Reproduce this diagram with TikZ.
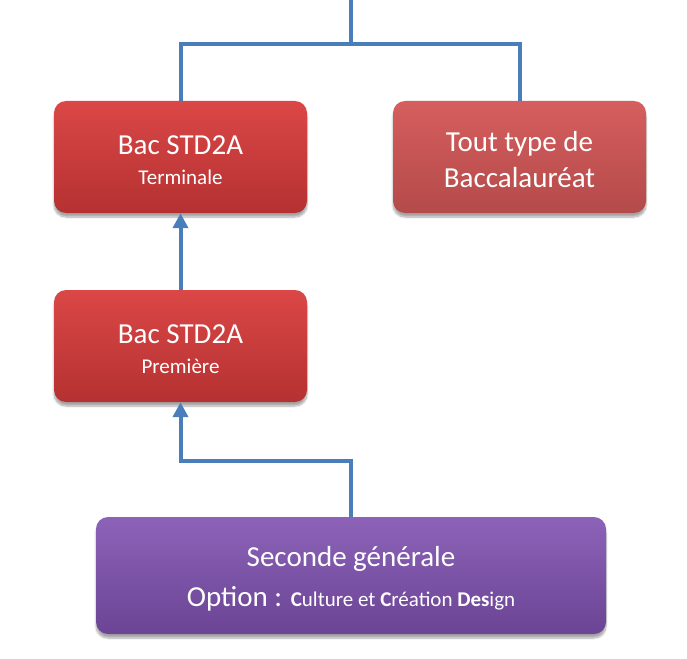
\documentclass[tikz,border=0pt]{standalone}
\usepackage{fontspec}
\setmainfont{Carlito}
\usetikzlibrary{arrows.meta,shadows.blur}
\definecolor{lineblue}{HTML}{4A7EBB}
\definecolor{redtop}{HTML}{DB4747}
\definecolor{redbot}{HTML}{B53131}
\definecolor{pinktop}{HTML}{D65E5E}
\definecolor{pinkbot}{HTML}{B44A4A}
\definecolor{purtop}{HTML}{8C63B8}
\definecolor{purbot}{HTML}{6B4495}
\newcommand{\smallt}{\fontsize{21}{26}\selectfont}
\tikzset{
  box/.style={rectangle, rounded corners=12pt, draw=none, inner sep=0pt,
    blur shadow={shadow xshift=0pt, shadow yshift=-4pt, shadow blur steps=8, shadow opacity=35}},
  redbox/.style={box, top color=redtop, bottom color=redbot, minimum width=253pt, minimum height=112pt},
  pinkbox/.style={box, top color=pinktop, bottom color=pinkbot, minimum width=253pt, minimum height=112pt},
  purbox/.style={box, top color=purtop, bottom color=purbot, minimum width=510pt, minimum height=117pt},
  lbl/.style={text=white, align=center, inner sep=0pt},
  redlbl/.style={lbl, font=\fontsize{29}{30}\selectfont},
  pinklbl/.style={lbl, font=\fontsize{29}{36}\selectfont},
  purlbl/.style={lbl, font=\fontsize{29}{40}\selectfont},
  link/.style={draw=lineblue, line width=4pt},
  arr/.style={link, -{Triangle[width=15pt,length=15pt]}},
}
\begin{document}
\begin{tikzpicture}[x=1pt,y=-1pt]
\useasboundingbox (0,0) rectangle (687,658);
\node[redbox] (term) at (180.5,157) {};
\node[redbox] (prem) at (180.5,346) {};
\node[pinkbox] (tout) at (519.5,157) {};
\node[purbox] (sec) at (351,575.5) {};
\node[redlbl] (termt) at ([yshift=-3pt]term.center) {Bac STD2A\\{\smallt Terminale}};
\node[pinklbl] (toutt) at ([yshift=-3pt]tout.center) {Tout type de\\Baccalauréat};
\node[redlbl] (premt) at ([yshift=-3pt]prem.center) {Bac STD2A\\{\smallt Première}};
\node[purlbl] (sect) at ([yshift=-3pt]sec.center) {Seconde générale\\Option : {\smallt\textbf{C}ulture et \textbf{C}réation \textbf{Des}ign}};
\coordinate (top) at (351,-2);
\coordinate (split) at (351,44);
\coordinate (bend) at (180.5,461);
\draw[link] (top) -- (split);
\draw[link] (split) -| (term.north);
\draw[link] (split) -| (tout.north);
\draw[arr] (prem.north) -- (term.south);
\draw[arr] (sec.north) |- (bend) -- (prem.south);
\end{tikzpicture}
\end{document}
